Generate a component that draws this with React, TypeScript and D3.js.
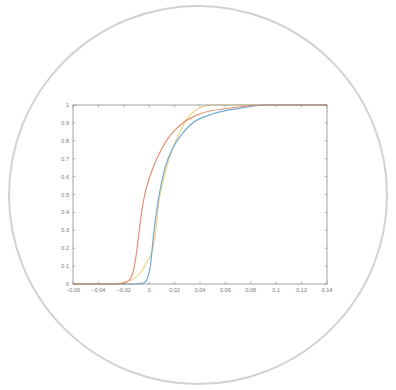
import { useEffect, useRef } from 'react';
import * as d3 from 'd3';

// x ticks and y ticks
const xTicks = [-0.06, -0.04, -0.02, 0, 0.02, 0.04, 0.06, 0.08, 0.1, 0.12, 0.14];
const yTicks = [0, 0.1, 0.2, 0.3, 0.4, 0.5, 0.6, 0.7, 0.8, 0.9, 1];

// cumulative curves
const redX = [-0.06, -0.026, -0.021, -0.0175, -0.015, -0.013, -0.0114, -0.0097, -0.0081, -0.006, -0.0035, 0.0005, 0.006, 0.0135, 0.019, 0.0265, 0.035, 0.042, 0.063, 0.09, 0.14];
const redY = [0, 0, 0.004, 0.012, 0.028, 0.06, 0.11, 0.19, 0.28, 0.4, 0.5, 0.6, 0.7, 0.8, 0.85, 0.9, 0.935, 0.955, 0.982, 1, 1];

const blueX = [-0.06, -0.01, -0.0055, -0.003, -0.0012, 0.0009, 0.0035, 0.0065, 0.0095, 0.0127, 0.018, 0.026, 0.0337, 0.05, 0.07, 0.091, 0.14];
const blueY = [0, 0, 0.004, 0.012, 0.035, 0.1, 0.28, 0.44, 0.56, 0.655, 0.75, 0.84, 0.897, 0.95, 0.98, 1, 1];

const yellowX = [-0.06, -0.03, -0.02, -0.012, -0.006, -0.002, 0.0027, 0.0048, 0.0074, 0.0105, 0.018, 0.0235, 0.031, 0.036, 0.04, 0.045, 0.05, 0.14];
const yellowY = [0, 0, 0.01, 0.03, 0.07, 0.12, 0.19, 0.28, 0.45, 0.56, 0.75, 0.84, 0.935, 0.968, 0.985, 0.996, 1, 1];

const series = [
  { xs: yellowX, ys: yellowY, color: '#f2d588' },
  { xs: blueX, ys: blueY, color: '#72abd8' },
  { xs: redX, ys: redY, color: '#e39075' },
];

export default function App() {
  const svgRef = useRef<SVGSVGElement>(null);

  useEffect(() => {
    if (!svgRef.current) return;
    const W = 396, H = 390;
    const left = 73, right = 327, top = 105, bottom = 284;

    const svg = d3.select(svgRef.current).attr('width', W).attr('height', H);
    svg.selectAll('*').remove();

    svg.append('rect').attr('width', W).attr('height', H).attr('fill', '#fff');

    // frame circle
    svg.append('circle')
      .attr('cx', 198).attr('cy', 195).attr('r', 189)
      .attr('fill', 'none').attr('stroke', '#d2d2d2').attr('stroke-width', 2);

    const x = d3.scaleLinear().domain([-0.06, 0.14]).range([left, right]);
    const y = d3.scaleLinear().domain([0, 1]).range([bottom, top]);

    const axisColor = '#8a8a8a';
    const font = 'Liberation Sans, Arial, sans-serif';

    // curves
    const line = d3.line<[number, number]>()
      .x(d => x(d[0])).y(d => y(d[1]))
      .curve(d3.curveMonotoneX);

    series.forEach(s => {
      const pts = s.xs.map((v, i) => [v, s.ys[i]] as [number, number]);
      svg.append('path')
        .attr('d', line(pts)!)
        .attr('fill', 'none')
        .attr('stroke', s.color)
        .attr('stroke-width', 1.2);
    });

    // box
    svg.append('rect')
      .attr('x', left).attr('y', top)
      .attr('width', right - left).attr('height', bottom - top)
      .attr('fill', 'none').attr('stroke', axisColor).attr('stroke-width', 0.8);

    // inward ticks
    const tk = 2.5;
    const g = svg.append('g').attr('stroke', axisColor).attr('stroke-width', 0.6);
    xTicks.forEach(t => {
      g.append('line').attr('x1', x(t)).attr('x2', x(t)).attr('y1', bottom).attr('y2', bottom - tk);
      g.append('line').attr('x1', x(t)).attr('x2', x(t)).attr('y1', top).attr('y2', top + tk);
    });
    yTicks.forEach(t => {
      g.append('line').attr('x1', left).attr('x2', left + tk).attr('y1', y(t)).attr('y2', y(t));
      g.append('line').attr('x1', right).attr('x2', right - tk).attr('y1', y(t)).attr('y2', y(t));
    });

    // labels
    svg.append('g').selectAll('text').data(xTicks).enter().append('text')
      .attr('x', d => x(d)).attr('y', bottom + 8)
      .attr('text-anchor', 'middle')
      .attr('font-family', font).attr('font-size', 5.5).attr('fill', '#777')
      .text(d => d3.format('')(+d.toFixed(2)));

    svg.append('g').selectAll('text').data(yTicks).enter().append('text')
      .attr('x', left - 4).attr('y', d => y(d) + 2)
      .attr('text-anchor', 'end')
      .attr('font-family', font).attr('font-size', 5.5).attr('fill', '#777')
      .text(d => d3.format('')(+d.toFixed(1)));
  }, []);

  return (
    <div style={{ position: 'fixed', left: 0, top: 0 }}>
      <svg ref={svgRef} style={{ display: 'block' }} />
    </div>
  );
}
